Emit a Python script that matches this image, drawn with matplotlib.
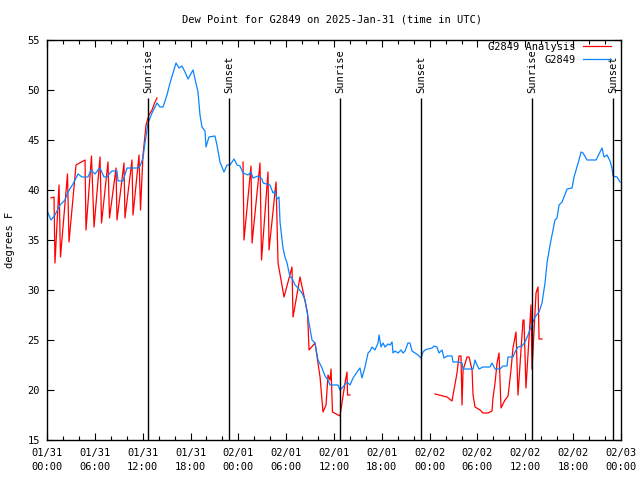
import numpy as np
import matplotlib
matplotlib.use('Agg')
import matplotlib.pyplot as plt
from matplotlib.ticker import MultipleLocator

# 时间：自 2025-01-31 00:00 UTC 起的小时数
blue_h = [0.00, 0.13, 0.50, 1.00, 1.63, 2.26, 2.63, 3.26, 3.89, 4.39, 5.14, 5.52, 6.02, 6.40, 6.65,
          7.15, 7.53, 7.90, 8.15, 8.78, 8.91, 9.53, 10.04, 11.42, 11.67, 12.04, 12.29, 12.67, 13.17,
          13.80, 14.17, 14.55, 15.05, 15.43, 15.81, 16.18, 16.56, 16.93, 17.31, 17.69, 18.31, 18.69,
          18.94, 19.19, 19.44, 19.82, 19.94, 20.32, 21.07, 21.32, 21.70, 22.20, 22.58, 22.96, 23.46,
          23.83, 24.21, 24.59, 25.21, 25.59, 25.84, 26.47, 26.97, 27.10, 27.97, 28.35, 28.60, 28.85,
          29.10, 29.23, 29.48, 29.60, 29.85, 30.11, 30.48, 30.73, 31.11, 31.49, 31.99, 32.36, 32.74,
          33.24, 33.62, 33.99, 34.50, 34.87, 35.25, 35.50, 36.50, 36.75, 37.13, 37.63, 38.01, 38.39,
          38.89, 39.26, 39.51, 39.89, 40.27, 40.52, 40.77, 41.14, 41.52, 41.65, 41.90, 42.15, 42.40,
          42.78, 43.03, 43.28, 43.40, 43.65, 44.03, 44.41, 44.66, 44.91, 45.28, 45.53, 45.79, 46.16,
          46.54, 46.92, 47.17, 47.42, 47.79, 48.30, 48.55, 48.92, 49.17, 49.55, 49.80, 50.18, 50.80,
          50.93, 51.56, 52.06, 52.19, 53.44, 53.69, 53.94, 54.19, 54.69, 55.57, 55.82, 56.20, 56.82,
          57.20, 57.70, 57.83, 58.45, 58.71, 59.08, 59.58, 59.96, 60.34, 60.84, 61.21, 61.72, 62.09,
          62.47, 62.72, 63.10, 63.47, 63.72, 63.97, 64.23, 64.60, 64.85, 65.23, 65.86, 66.11, 66.48,
          66.73, 66.99, 67.24, 67.74, 68.87, 69.24, 69.62, 69.87, 70.25, 70.62, 70.87, 71.00, 71.50,
          71.88]
blue_v = [38.0, 37.7, 37.0, 37.5, 38.5, 39.0, 39.8, 40.6, 41.6, 41.3, 41.3, 42.0, 41.6, 42.0, 42.2,
          41.3, 41.3, 41.7, 41.9, 41.9, 40.9, 40.9, 42.2, 42.2, 42.4, 43.2, 44.7, 46.7, 47.7,
          48.7, 48.3, 48.3, 49.5, 50.7, 51.7, 52.7, 52.2, 52.4, 51.8, 51.1, 52.0, 50.7,
          49.8, 47.5, 46.3, 45.9, 44.3, 45.3, 45.4, 44.5, 42.8, 41.8, 42.5, 42.5, 43.1,
          42.5, 42.4, 41.7, 41.5, 41.8, 41.2, 41.4, 41.1, 40.7, 40.5, 39.7, 39.9, 39.1,
          39.3, 36.8, 35.0, 34.2, 33.3, 32.7, 31.3, 31.2, 30.5, 30.2, 29.7, 29.0, 27.3,
          25.0, 24.7, 23.0, 22.2, 21.4, 21.0, 20.5, 20.5, 20.0, 20.3, 20.8, 20.5, 21.2,
          21.8, 22.2, 21.2, 22.3, 23.7, 23.9, 24.3, 24.0, 24.7, 25.5, 24.3, 24.7, 24.3,
          24.6, 24.5, 24.8, 23.7, 23.9, 23.7, 24.0, 23.7, 23.9, 24.7, 24.7, 23.9, 23.7,
          23.5, 23.2, 23.8, 24.0, 24.1, 24.2, 24.4, 24.3, 23.7, 24.0, 23.2, 23.4, 23.4,
          22.8, 22.8, 22.7, 22.1, 22.1, 23.0, 22.5, 22.1, 22.3, 22.3, 22.7, 22.1, 22.1,
          22.4, 22.4, 23.3, 23.3, 23.8, 24.3, 24.4, 24.8, 25.5, 26.6, 27.3, 27.8, 28.7,
          30.7, 32.7, 34.5, 36.0, 37.0, 37.2, 38.5, 38.8, 39.3, 40.1, 40.2, 41.3, 42.3,
          43.0, 43.8, 43.7, 43.0, 43.0, 43.6, 44.2, 43.3, 43.5, 42.9, 42.2, 41.4, 41.3,
          40.8]

# 分析值（NaN 为缺测段）
red_h = [0.50, 0.88, 1.00, 1.51, 1.69, 2.57, 2.76, 3.64, 4.77, 4.89, 5.58, 5.90, 6.65, 6.84,
         7.65, 7.84, 8.66, 8.78, 9.66, 9.78, 10.66, 10.79, 11.54, 11.73, 12.04, 12.42, 12.79,
         13.17, 13.55, 13.80, np.nan,
         24.59, 24.71, 25.59, 25.72, 26.72, 26.91, 27.72, 27.85, 28.73, 28.98, 29.73, 30.73,
         30.86, 31.74, 32.68, 32.87, 33.62, 34.25, 34.62, 35.00, 35.25, 35.50, 35.63, 35.81,
         36.75, 37.38, 37.63, 37.70, 38.01, np.nan,
         48.67, 50.18, 50.80, 51.43, 51.68, 51.93, 52.06, 52.19, 52.69, 52.94, 53.32, 53.44,
         53.69, 54.32, 54.69, 55.32, 55.82, 55.94, 56.20, 56.45, 56.70, 56.95, 57.45, 57.83,
         58.20, 58.45, 58.83, 59.08, 59.71, 59.83, 60.08, 60.71, 60.84, 61.34, 61.59, 61.72,
         62.09]
red_v = [39.2, 39.3, 32.7, 40.5, 33.3, 41.6, 34.8, 42.5, 43.0, 36.0, 43.4, 36.3, 43.3, 36.7,
         42.8, 37.2, 42.2, 37.0, 42.7, 37.2, 43.0, 37.5, 43.5, 38.0, 43.5, 46.5, 47.5,
         48.0, 48.8, 49.2, np.nan,
         42.8, 35.0, 42.4, 34.7, 42.7, 33.0, 41.8, 34.0, 40.8, 32.7, 29.3, 32.3,
         27.3, 31.3, 27.7, 24.0, 24.7, 21.3, 17.8, 18.5, 21.5, 21.0, 22.1, 17.8,
         17.4, 20.7, 21.8, 19.5, 19.5, np.nan,
         19.6, 19.3, 18.9, 21.7, 23.4, 23.4, 18.5, 22.0, 23.3, 23.3, 22.0, 19.5,
         18.3, 18.0, 17.7, 17.7, 17.9, 19.2, 20.7, 22.7, 23.7, 18.2, 19.0, 19.4,
         22.0, 24.2, 25.8, 19.5, 27.0, 27.0, 20.2, 28.5, 22.1, 29.7, 30.3, 25.1,
         25.1]

sun_h = [12.67, 22.83, 36.75, 46.92, 60.84, 71.0]
sun_labels = ['Sunrise', 'Sunset', 'Sunrise', 'Sunset', 'Sunrise', 'Sunset']

xtick_h = list(range(0, 73, 6))
xtick_labels = ['01/31\n00:00', '01/31\n06:00', '01/31\n12:00', '01/31\n18:00',
                '02/01\n00:00', '02/01\n06:00', '02/01\n12:00', '02/01\n18:00',
                '02/02\n00:00', '02/02\n06:00', '02/02\n12:00', '02/02\n18:00',
                '02/03\n00:00']

plt.rcParams['font.family'] = ['DejaVu Sans Mono']
fs = 7.5

fig = plt.figure(figsize=(6.4, 4.8), dpi=100)
ax = fig.add_axes([47 / 640, 40 / 480, 574 / 640, 400 / 480])

ax.plot(red_h, red_v, color='#ff0000', lw=0.9, label='G2849 Analysis')
ax.plot(blue_h, blue_v, color='#0a84ff', lw=0.9, label='G2849')

# 日出日落竖线
ax.vlines(sun_h, 15, 49.2, color='black', lw=1.0)
for h, s in zip(sun_h, sun_labels):
    ax.text(h, 49.7, s, rotation=90, ha='center', va='bottom', fontsize=fs)

ax.set_xlim(0, 72)
ax.set_ylim(15, 55)
ax.set_xticks(xtick_h)
ax.set_xticklabels(xtick_labels, fontsize=fs)
for lbl in ax.get_xticklabels():
    lbl.set_linespacing(1.5)
ax.xaxis.set_minor_locator(MultipleLocator(2))
ax.set_yticks(range(15, 56, 5))
ax.tick_params(axis='y', labelsize=fs)
ax.tick_params(which='both', direction='in', top=True, right=True, width=0.8)
ax.tick_params(which='major', length=5)
ax.tick_params(which='minor', length=3)
ax.tick_params(axis='x', pad=6)
ax.tick_params(axis='y', pad=5)
for sp in ax.spines.values():
    sp.set_linewidth(1.0)

fig.text(332 / 640, 1 - 20 / 480, 'Dew Point for G2849 on 2025-Jan-31 (time in UTC)',
         ha='center', va='center', fontsize=fs)
fig.text(10 / 640, 0.5, 'degrees F', rotation=90, ha='center', va='center', fontsize=fs)

ax.legend(loc='upper right', bbox_to_anchor=(0.983, 0.995), frameon=False, markerfirst=False,
          fontsize=fs, handlelength=2.7, handletextpad=0.7, labelspacing=0.25,
          borderpad=0, borderaxespad=0)

fig.savefig('out.png', dpi=100)
